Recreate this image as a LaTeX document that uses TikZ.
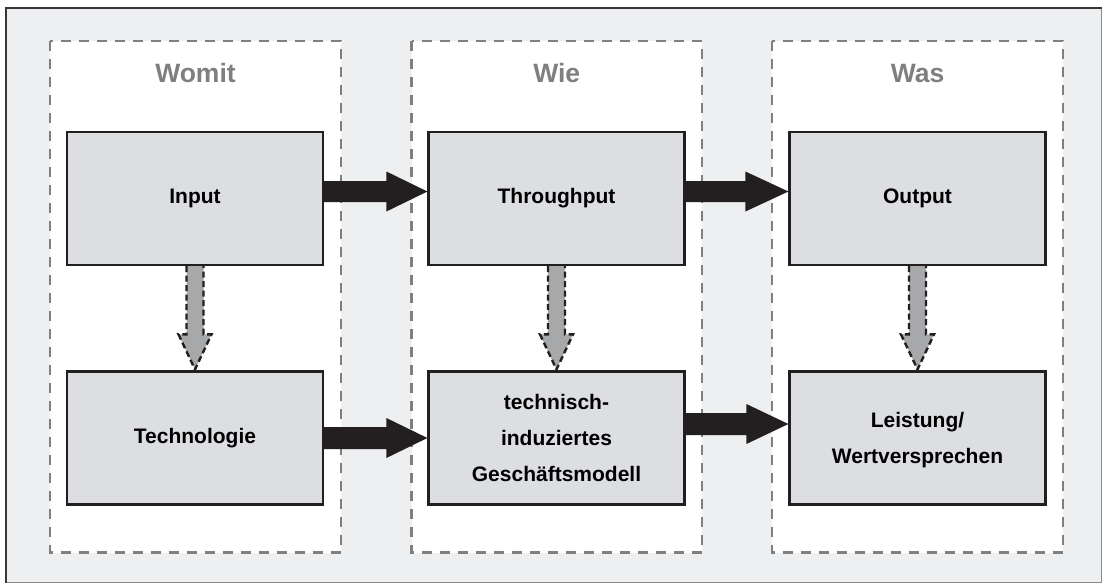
\documentclass[tikz,border=0pt]{standalone}
\usepackage{fontspec}
\setmainfont{Liberation Sans}
\usetikzlibrary{calc}
\definecolor{bgc}{HTML}{EEEFF1}
\definecolor{boxc}{HTML}{DCDEE1}
\definecolor{edgec}{HTML}{231F20}
\definecolor{dashc}{HTML}{808080}
\definecolor{headc}{HTML}{7F7F7F}
\definecolor{arrc}{HTML}{A7A8AA}
\definecolor{framelo}{HTML}{8A8A8A}
\begin{document}
\begin{tikzpicture}[x=1pt,y=-1pt,
  column/.style={draw=dashc, line width=2.5pt, dash pattern=on 10pt off 8pt, fill=white},
  box/.style={draw=edgec, line width=2.2pt, fill=boxc, minimum width=256pt, minimum height=133pt,
    inner sep=0pt, align=center, font=\fontsize{21}{36}\selectfont\bfseries, text=black},
  heading/.style={font=\fontsize{26.5}{30}\selectfont\bfseries, text=headc, anchor=base},
  flow/.style={fill=edgec},
  dep/.style={fill=arrc, draw=edgec, line width=2.4pt, dash pattern=on 6pt off 3.5pt, line join=miter}
]
\useasboundingbox (0,0) rectangle (1103,584);
% outer frame
\fill[bgc] (6,8) rectangle (1101.5,582.5);
\draw[framelo, line width=1.5pt] (1101.5,8) -- (1101.5,582.5) -- (6,582.5);
\draw[edgec!90, line width=2.5pt] (6,582.5) -- (6,8) -- (1101.5,8);
% columns
\draw[column] (50,41) rectangle (341,552.5);
\draw[column] (411.5,41) rectangle (702,552.5);
\draw[column] (772,41) rectangle (1063,552.5);
% headings
\node[heading] (hwomit) at (195.5,82) {Womit};
\node[heading] (hwie) at (556.75,82) {Wie};
\node[heading] (hwas) at (917.5,82) {Was};
% boxes
\node[box] (input) at (195,198.5) {Input};
\node[box] (tech) at (195,438) {Technologie};
\node[box] (through) at (556.5,198.5) {Throughput};
\node[box] (gm) at (556.5,438) {\raisebox{-2pt}{\begin{tabular}{@{}c@{}}technisch-\\induziertes\\Geschäftsmodell\end{tabular}}};
\node[box] (output) at (917.5,198.5) {Output};
\node[box] (leist) at (917.5,438) {\raisebox{-2pt}{\begin{tabular}{@{}c@{}}Leistung/\\Wertversprechen\end{tabular}}};
% black flow arrows
\fill[flow] ($(input.east)+(0,-17.5)$) -- ($(through.west)+(-41,-17.5)$) -- ($(through.west)+(-41,-27)$)
  -- ($(through.west)+(0,-7)$) -- ($(through.west)+(-41,13)$) -- ($(through.west)+(-41,3.5)$)
  -- ($(input.east)+(0,3.5)$) -- cycle;
\fill[flow] ($(through.east)+(0,-17.5)$) -- ($(output.west)+(-43,-17.5)$) -- ($(output.west)+(-43,-27)$)
  -- ($(output.west)+(0,-7)$) -- ($(output.west)+(-43,13)$) -- ($(output.west)+(-43,3.5)$)
  -- ($(through.east)+(0,3.5)$) -- cycle;
\fill[flow] ($(tech.east)+(0,-11)$) -- ($(gm.west)+(-41,-11)$) -- ($(gm.west)+(-41,-20)$)
  -- ($(gm.west)+(0,0)$) -- ($(gm.west)+(-41,20)$) -- ($(gm.west)+(-41,11)$)
  -- ($(tech.east)+(0,11)$) -- cycle;
\fill[flow] ($(gm.east)+(0,-25)$) -- ($(leist.west)+(-42,-25)$) -- ($(leist.west)+(-42,-34)$)
  -- ($(leist.west)+(0,-14)$) -- ($(leist.west)+(-42,6)$) -- ($(leist.west)+(-42,-3)$)
  -- ($(gm.east)+(0,-3)$) -- cycle;
% dashed gray dependency arrows
\foreach \a/\b in {input/tech, through/gm, output/leist}{
  \filldraw[dep] ($(\a.south)+(-8.5,0)$) -- ($(\b.north)+(-8.5,-36)$) -- ($(\b.north)+(-16.5,-36)$)
    -- ($(\b.north)+(0,-1)$) -- ($(\b.north)+(16.5,-36)$) -- ($(\b.north)+(8.5,-36)$) -- ($(\a.south)+(8.5,0)$);
}
\end{tikzpicture}
\end{document}
